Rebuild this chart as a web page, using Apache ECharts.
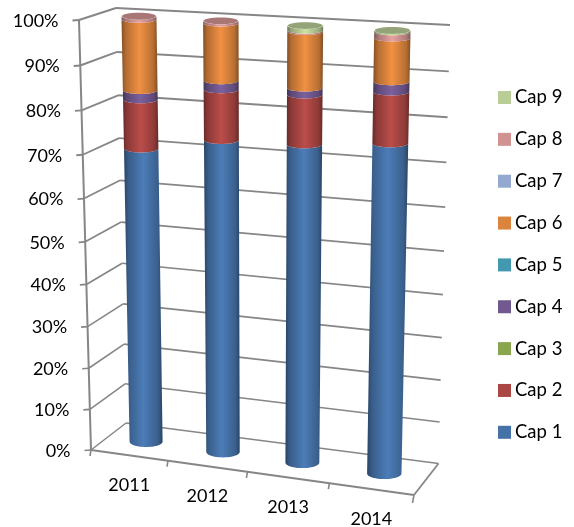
<!DOCTYPE html>
<html>
<head>
<meta charset="utf-8">
<style>html,body{margin:0;padding:0;background:#fff}#c{width:574px;height:527px}</style>
<script src="https://cdn.jsdelivr.net/npm/echarts@6/dist/echarts.min.js"></script>
</head>
<body>
<div id="c"></div>
<script>
const categories = ['2011', '2012', '2013', '2014'];
const yTicks = [0, 10, 20, 30, 40, 50, 60, 70, 80, 90, 100];
const seriesNames = ['Cap 1', 'Cap 2', 'Cap 3', 'Cap 4', 'Cap 5', 'Cap 6', 'Cap 7', 'Cap 8', 'Cap 9'];
const cap1 = [70.25, 73.6, 74.05, 75.7];
const cap2 = [11.15, 11.3, 10.95, 11.2];
const cap3 = [0, 0, 0, 0];
const cap4 = [2.1, 2.0, 1.5, 2.2];
const cap5 = [0, 0, 0, 0];
const cap6 = [15.8, 12.6, 12.2, 9.3];
const cap7 = [0, 0, 0, 0];
const cap8 = [0.7, 0.5, 0.3, 1.3];
const cap9 = [0, 0, 1.0, 0.3];
const seriesValues = [cap1, cap2, cap3, cap4, cap5, cap6, cap7, cap8, cap9];
const seriesColors = ['#4572a7', '#aa4643', '#89a54e', '#71588f', '#4198af', '#db843d', '#93a9cf', '#d19392', '#b9cd96'];

const GRID = { left: 91, top: 20, width: 323, height: 430 };
// Corners of the tilted plot box (the front plane and the back wall)
const FRONT = { bl: [91, 450], tl: [79, 20], br: [414, 495], tr: [421, 41] };
const BACK = { bl: [126, 423], tl: [116, 8], br: [438.5, 463.5], tr: [450, 25] };
const PERSPECTIVE = 1.065;
const LINE = '#868686';
const FONT = '18px Lato';
const lerp = (a, b, t) => a + (b - a) * t;
function project(u, v, d) {
  const q = k => {
    const f = lerp(lerp(FRONT.bl[k], FRONT.br[k], u), lerp(FRONT.tl[k], FRONT.tr[k], u), v);
    const b = lerp(lerp(BACK.bl[k], BACK.br[k], u), lerp(BACK.tl[k], BACK.tr[k], u), v);
    return lerp(f, b, d);
  };
  return [q(0), q(1)];
}
// The scales' linear positions, foreshortened by the view's perspective
const foreshorten = t => t / (t + PERSPECTIVE * (1 - t));
const toU = px => foreshorten((px - GRID.left) / GRID.width);
const toV = py => foreshorten((GRID.top + GRID.height - py) / GRID.height);

function shade(hex, f) {
  const n = parseInt(hex.slice(1), 16);
  const c = [n >> 16, (n >> 8) & 255, n & 255].map(x => Math.min(255, Math.round(x * f)));
  return 'rgb(' + c.join(',') + ')';
}
function line(a, b, width, color) {
  return { type: 'line', shape: { x1: a[0], y1: a[1], x2: b[0], y2: b[1] },
    style: { stroke: color || LINE, lineWidth: width, fill: null } };
}
function arc(center, rx, ry, from, to) {
  const pts = [];
  for (let i = 0; i <= 24; i++) {
    const t = lerp(from, to, i / 24);
    pts.push([center[0] + rx * Math.cos(t), center[1] + ry * Math.sin(t)]);
  }
  return pts;
}
const rxAt = (u, v) => 16.4 + 1.0 * v + 0.9 * u;
const ryAt = v => lerp(5.5, 3.4, v);
const barCenter = (u, v) => {
  const c = project(u, v, 0.5);
  return [c[0] + 1.5 * v, c[1]];
};

function renderYTick(params, api) {
  const val = api.value(0);
  const v = toV(api.coord([0, val])[1]);
  const f = project(0, v, 0), b = project(0, v, 1), r = project(1, v, 1);
  const w = lerp(1.5, 2, v);
  return { type: 'group', silent: true, children: [
    line(f, b, w), line(b, r, w),
    line([f[0] - 6.5, f[1] + 0.5], f, w),
    { type: 'text', style: { x: f[0] - 20.5, y: f[1] + 1, text: val + '%', textAlign: 'right', textVerticalAlign: 'middle',
      font: FONT, fill: '#000' } }
  ] };
}
function renderFloor(params, api) {
  const i = api.value(0);
  const px = api.coord([i, 0])[0];
  const bw = api.size([1, 0])[0];
  const a = project(toU(px - bw / 2), 0, 0), lab = project(toU(px), 0, 0);
  const children = [
    line(a, [a[0] - 1, a[1] + 6], 1.6),
    { type: 'text', style: { x: lab[0], y: lab[1] + 30, text: categories[i], textAlign: 'center', textVerticalAlign: 'middle',
      font: FONT, fill: '#000' } }
  ];
  if (i === categories.length - 1) {
    const fr = project(1, 0, 0);
    children.push(line(project(0, 0, 0), fr, 2), line(fr, project(1, 0, 1), 1.8),
      line(fr, [fr[0] - 1.5, fr[1] + 8], 1.6), line(project(0, 1, 0), project(0, 0, 0), 2));
  }
  return { type: 'group', silent: true, children };
}
function renderSegment(si) {
  return function (params, api) {
    const i = api.value(0), y0 = api.value(1), y1 = api.value(2);
    if (y1 <= y0) return null;
    const p0 = api.coord([i, y0]), p1 = api.coord([i, y1]);
    const u = toU(p0[0]), v0 = toV(p0[1]), v1 = toV(p1[1]);
    const c0 = barCenter(u, v0), c1 = barCenter(u, v1);
    const col = seriesColors[si];
    // both edges are the front halves of the ellipses (sin > 0 is downward on screen)
    const edge0 = arc(c0, rxAt(u, v0), ryAt(v0), Math.PI, 0);
    const edge1 = arc(c1, rxAt(u, v1), ryAt(v1), 0, Math.PI);
    const fill = new echarts.graphic.LinearGradient(0, 0, 1, 0, [
      { offset: 0, color: shade(col, 0.6) }, { offset: 0.12, color: shade(col, 0.82) },
      { offset: 0.5, color: shade(col, 1.1) }, { offset: 0.88, color: shade(col, 0.84) },
      { offset: 1, color: shade(col, 0.6) }
    ]);
    const children = [{ type: 'polygon', shape: { points: edge0.concat(edge1) }, style: { fill } }];
    const isTop = !seriesValues.slice(si + 1).some(s => s[i] > 0);
    if (isTop) {
      children.push({ type: 'ellipse', shape: { cx: c1[0], cy: c1[1], rx: rxAt(u, v1) - 0.5, ry: ryAt(v1) },
        style: { fill: shade(col, 0.8) } });
    }
    return { type: 'group', children };
  };
}
function stackedData(si) {
  return categories.map((c, i) => {
    let start = 0;
    for (let k = 0; k < si; k++) start += seriesValues[k][i];
    return [i, start, start + seriesValues[si][i]];
  });
}

const chart = echarts.init(document.getElementById('c'), null, { renderer: 'canvas' });
chart.setOption({
  animation: false,
  backgroundColor: '#fff',
  tooltip: { show: false },
  grid: GRID,
  xAxis: { type: 'category', data: categories, show: false },
  yAxis: { type: 'value', min: 0, max: 100, interval: 10, show: false },
  legend: {
    data: seriesNames.slice().reverse(),
    orient: 'vertical', left: 498, top: 87.5, padding: 0,
    itemWidth: 13, itemHeight: 13, itemGap: 21.85, icon: 'rect',
    selectedMode: false,
    textStyle: { fontFamily: 'Lato', fontSize: 18.5, color: '#000', padding: [0, 0, 0, -1], lineHeight: 20 }
  },
  series: [
    { type: 'custom', name: 'yTicks', coordinateSystem: 'cartesian2d', silent: true,
      data: yTicks.map(t => [t]), encode: { y: 0 }, renderItem: renderYTick, z: 1, clip: false },
    { type: 'custom', name: 'floor', coordinateSystem: 'cartesian2d', silent: true,
      data: categories.map((c, i) => [i]), encode: { x: 0 }, renderItem: renderFloor, z: 1, clip: false }
  ].concat(seriesNames.map((name, si) => ({
    type: 'custom', name, coordinateSystem: 'cartesian2d', clip: false,
    itemStyle: { color: seriesColors[si] },
    data: stackedData(si), encode: { x: 0, y: [1, 2] },
    renderItem: renderSegment(si), z: 2 + si
  })))
});
</script>
</body>
</html>
